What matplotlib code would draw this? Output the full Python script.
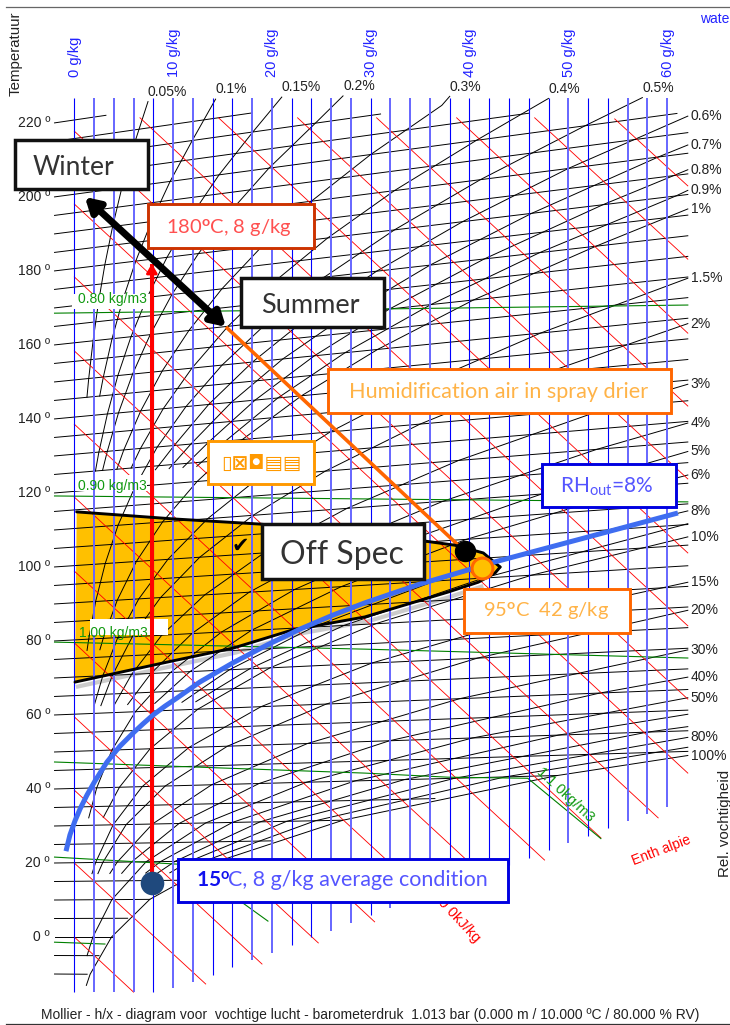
"""Mollier h/x diagram with spray drier operating points."""

import matplotlib

matplotlib.use("Agg")
import matplotlib.pyplot as plt
from matplotlib.patches import Polygon, Rectangle

plt.rcParams["font.family"] = ["Liberation Sans", "DejaVu Sans"]
plt.rcParams["mathtext.fontset"] = "custom"
plt.rcParams["mathtext.rm"] = "Lato"
plt.rcParams["mathtext.bf"] = "Lato:bold"
plt.rcParams["mathtext.default"] = "rm"

# Isotherms: temperature at the left edge, and moisture where each line stops
iso_temps = [-10, -5, 0, 5, 10, 15, 20, 25, 30, 35, 40, 45, 50, 55, 60, 65, 70, 75, 80, 85,
             90, 95, 100, 105, 110, 115, 120, 125, 130, 135, 140, 145, 150, 155, 160, 165,
             170, 175, 180, 185, 190, 195, 200, 205, 210, 215, 220]
iso_end_x = [1.3, 2.5, 3.77, 5.4, 7.64, 10.6, 14.7, 20.1, 27.2, 36.5, 48.9, 62.1, 62.1, 62.1,
             62.1, 62.1, 62.1, 62.1, 62.1, 62.1, 62.1, 62.1, 62.1, 62.1, 62.1, 62.1, 62.1,
             62.1, 62.1, 62.1, 62.1, 62.1, 62.1, 62.1, 62.1, 62.1, 62.1, 62.1, 62.1, 62.1,
             62.1, 62.1, 61, 46, 31, 18, 3.2]

# Relative humidity curves, label "" means the curve has no label
rh_labels = ["0.05%", "0.1%", "0.15%", "0.2%", "0.3%", "0.4%", "0.5%", "0.6%", "0.7%", "0.8%",
             "0.9%", "1%", "1.5%", "2%", "3%", "4%", "5%", "6%", "8%", "", "10%", "15%", "20%",
             "30%", "40%", "50%", "", "", "80%", "", "100%"]
rh_temps = [
    [145, 150, 160, 170, 180, 190, 200, 210, 220, 222],
    [145, 150, 160, 170, 180, 190, 200, 210, 220],
    [125, 130, 140, 150, 160, 170, 180, 190, 200, 210, 218],
    [125, 130, 140, 150, 160, 170, 180, 190, 200, 210, 216],
    [125, 130, 140, 150, 160, 170, 180, 190, 200, 210, 212],
    [125, 130, 140, 150, 160, 170, 180, 190, 200, 208],
    [77, 80, 90, 100, 110, 120, 130, 140, 150, 160, 170, 180, 190, 200, 205],
    [124, 130, 140, 150, 160, 170, 180, 190, 199],
    [124, 130, 140, 150, 160, 170, 180, 190, 192],
    [124, 130, 140, 150, 160, 170, 180, 186],
    [124, 130, 140, 150, 160, 170, 180, 181],
    [77, 80, 90, 100, 110, 120, 130, 140, 150, 160, 170, 176.5],
    [62, 70, 80, 90, 100, 110, 120, 130, 140, 150, 159.7],
    [62, 70, 80, 90, 100, 110, 120, 130, 140, 148.7],
    [62, 70, 80, 90, 100, 110, 120, 130, 134],
    [62, 70, 80, 90, 100, 110, 120, 124.6],
    [32, 40, 50, 60, 70, 80, 90, 100, 110, 117.7],
    [62, 70, 80, 90, 100, 110, 112],
    [62, 70, 80, 90, 100, 103.3],
    [62, 70, 80, 90, 100.2],
    [32, 40, 50, 60, 70, 80, 90, 97],
    [17, 20, 30, 40, 50, 60, 70, 80, 86],
    [17, 20, 30, 40, 50, 60, 70, 79.2],
    [17, 20, 30, 40, 50, 60, 69.6],
    [17, 20, 30, 40, 50, 60, 63],
    [-5, 0, 10, 20, 30, 40, 50, 58],
    [17, 20, 30, 40, 50, 54],
    [17, 20, 30, 40, 50, 51],
    [17, 20, 30, 40, 48.4],
    [17, 20, 30, 40, 46],
    [-13, -10, 0, 10, 20, 30, 40, 44],
]
rh_gkg = [
    [1.28, 1.46, 1.9, 2.44, 3.09, 3.88, 4.81, 5.91, 7.2, 7.46],
    [2.57, 2.94, 3.82, 4.9, 6.22, 7.81, 9.7, 11.94, 14.3],
    [2.14, 2.49, 3.35, 4.41, 5.74, 7.38, 9.38, 11.79, 14.65, 18.07, 21.0],
    [2.86, 3.34, 4.47, 5.9, 7.68, 9.88, 12.57, 15.8, 19.7, 24.4, 27.2],
    [4.31, 5.01, 6.73, 8.89, 11.6, 14.94, 19.05, 24.0, 30.0, 37.2, 38.0],
    [5.75, 6.7, 9.0, 11.91, 15.56, 20.08, 25.65, 32.4, 40.7, 48.0],
    [1.29, 1.46, 2.16, 3.13, 4.43, 6.16, 8.4, 11.3, 14.96, 19.6, 25.3, 32.4, 41.1, 51.7, 57.5],
    [8.21, 10.11, 13.6, 18.04, 23.6, 30.6, 39.3, 50.0, 62.1],
    [9.6, 11.8, 15.9, 21.1, 27.8, 36.0, 46.3, 59.1, 62.1],
    [11.0, 13.55, 18.3, 24.3, 31.9, 41.5, 53.5, 62.1],
    [12.4, 15.3, 20.6, 27.4, 36.1, 47.1, 60.9, 62.1],
    [2.59, 2.93, 4.35, 6.28, 8.93, 12.43, 17.0, 23.0, 30.7, 40.4, 52.8, 62.1],
    [2.0, 2.89, 4.4, 6.53, 9.47, 13.5, 18.85, 25.9, 35.2, 47.2, 62.1],
    [2.69, 3.86, 5.87, 8.73, 12.7, 18.1, 25.4, 35.0, 47.8, 62.1],
    [4.04, 5.8, 8.85, 13.2, 19.2, 27.6, 38.9, 54.1, 62.1],
    [5.4, 7.76, 11.9, 17.7, 25.9, 37.3, 52.9, 62.1],
    [1.46, 2.27, 3.81, 6.18, 9.73, 14.9, 22.3, 32.7, 47.3, 62.1],
    [8.15, 11.7, 17.9, 27.0, 39.7, 57.7, 62.1],
    [10.9, 15.7, 24.2, 36.5, 54.1, 62.1],
    [12.3, 17.75, 27.3, 41.4, 62.1],
    [2.93, 4.57, 7.67, 12.5, 19.8, 30.5, 46.3, 62.1],
    [1.79, 2.16, 3.93, 6.87, 11.6, 18.9, 30.1, 46.9, 62.1],
    [2.39, 2.89, 5.25, 9.2, 15.5, 25.5, 40.8, 62.1],
    [3.6, 4.34, 7.91, 13.9, 23.6, 39.0, 62.1],
    [4.8, 5.8, 10.6, 18.7, 31.9, 53.2, 62.1],
    [1.29, 1.88, 3.8, 7.27, 13.3, 23.5, 40.3, 62.1],
    [7.23, 8.73, 16.0, 28.4, 49.0, 62.1],
    [8.45, 10.2, 18.8, 33.4, 58.0, 62.1],
    [9.67, 11.7, 21.5, 38.5, 62.1],
    [10.9, 13.2, 24.4, 43.6, 62.1],
    [1.22, 1.6, 3.77, 7.64, 14.7, 27.2, 48.9, 62.1],
]

# Moisture lines, every 2 g/kg, with the ordinate where each stops at the bottom
water_x = [0, 2, 4, 6, 8, 10, 12, 14, 16, 18, 20, 22, 24, 26, 28, 30, 32, 34, 36, 38, 40, 42,
           44, 46, 48, 50, 52, 54, 56, 58, 60]
water_bottom = [-14.9, -14.9, -14.9, -14.9, -14.9, -13.8, -12.2, -10.3, -8.1, -6.2, -4.3, -2.2,
                0, 1.6, 3.8, 5.9, 7.8, 9.7, 11.6, 13.5, 15.4, 17.3, 19.5, 21.4, 23.5, 25.4,
                27.3, 29.5, 31.4, 33.2, 35.1]
water_top = 226.8
water_faint = [2, 4, 6, 10, 12, 18, 20, 26, 28, 32, 34, 36, 50, 56, 58, 60]
water_labels = [0, 10, 20, 30, 40, 50, 60]

# Enthalpy lines (start and end of each)
enth_x0 = [54.7, 46.6, 38.7, 30.6, 22.6, 14.6, 6.65, 0, 0, 0, 0, 0, 0, 0, 0, 0, 0, 0, 0]
enth_y0 = [221.1, 221.4, 221.4, 221.4, 221.4, 221.4, 221.4, 217.8, 198.1, 178.4, 158.4, 138.6,
           118.9, 98.9, 79.5, 59.5, 39.7, 20, 0]
enth_x1 = [62.1, 62.1, 62.1, 62.1, 62.1, 62.1, 62.1, 62.1, 62.1, 59.1, 53.3, 47.6, 41.9, 36.1,
           30.4, 24.7, 19, 13.3, 6]
enth_y1 = [203.0, 183.2, 163.2, 143.5, 123.8, 103.8, 84.1, 64.3, 44.3, 32.2, 26.8, 20.8, 15.4,
           9.7, 4.1, -1.6, -7.3, -12.7, -14.9]

# Density lines
dens_x = [[-2, 62.1], [-2, 29.4, 62.1], [-2, 29.4, 62.1], [-2, 29.4, 37.8, 45.9, 53.3],
          [-2, 11.7, 19.6], [-2, 3.1]]
dens_y = [[168.6, 170.8], [119.2, 118.4, 117.6], [79.7, 77.8, 75.4], [47.3, 44.3, 43.2, 42.9, 26.6],
          [21.6, 19.5, 4.3], [-1.4, -1.9]]

temp_ticks = [0, 20, 40, 60, 80, 100, 120, 140, 160, 180, 200, 220]

# Off spec region
spec_x = [0.24, 10.0, 18.8, 35.5, 38.5, 41.4, 43.1, 42.6, 40.9, 37.8, 29.4, 22.1, 16.1, 9.4, 0.07]
spec_y = [114.9, 113.0, 111.6, 107.0, 105.9, 103.8, 100, 98.4, 95.9, 93.2, 86.5, 83, 78.1, 74.3, 68.9]

# RH out = 8% process line
rh_out_x = [-0.84, -0.44, 0.07, 0.58, 1.29, 2.1, 3.31, 4.63, 5.94, 6.95, 7.97, 9.18, 10.4, 12.7,
            16.06, 19.5, 22.84, 26.18, 29.4, 34.99, 39.85, 42.6, 61.1]
rh_out_y = [23.2, 27.6, 31.4, 34.6, 38.4, 42.2, 47.3, 51.6, 55.1, 57.6, 60.0, 62.4, 64.6, 68.9,
            74.1, 78.9, 83.2, 87.0, 90.3, 95.4, 99.2, 101.4, 114.6]

# Process points: inlet, heated, season arrow, spray drier
heater_x = [7.85, 7.85]
heater_y = [14.6, 182]
season_x = [1.07, 15.35]
season_y = [200, 164.9]
spray_x = [15.35, 39.5]
spray_y = [164.9, 104.3]
off_spec_point = (39.5, 104.3)
outlet_point = (41.3, 99.8)
inlet_point = (7.85, 14.6)


def chart_y(temp, gkg):
    """Ordinate on the skewed diagram for a temperature and a moisture content."""
    return temp * (1.0037 + 0.00179 * gkg)


fig = plt.figure(figsize=(7.3, 10.25), dpi=100)
ax = fig.add_axes([0, 0, 1, 1])
ax.set_xlim(-7.52, 66.37)
ax.set_ylim(-23.78, 253.24)
ax.axis("off")

# Pixel layer for the boxes and frame lines that sit on top of the diagram
top = fig.add_axes([0, 0, 1, 1])
top.set_xlim(0, 730)
top.set_ylim(1025, 0)
top.axis("off")
top.patch.set_alpha(0)

# Off spec area goes under the grid
ax.add_patch(Polygon(list(zip(spec_x, spec_y)), closed=True, facecolor="#ffc000", edgecolor="none", zorder=1))
ax.plot([x + 0.3 for x in spec_x[8:]], [y - 1.2 for y in spec_y[8:]], color="#999999", lw=3, alpha=0.5, zorder=1)

for temp, end_x in zip(iso_temps, iso_end_x):
    ax.plot([-2, end_x], [chart_y(temp, -2), chart_y(temp, end_x)], color="black", lw=0.7, zorder=3)

for temps, gkg in zip(rh_temps, rh_gkg):
    ax.plot(gkg, [chart_y(t, g) for t, g in zip(temps, gkg)], color="black", lw=0.7, zorder=3)

for x0, y0, x1, y1 in zip(enth_x0, enth_y0, enth_x1, enth_y1):
    ax.plot([x0, x1], [y0, y1], color="red", lw=0.62, zorder=3)

for gx, gy in zip(dens_x, dens_y):
    ax.plot(gx, gy, color="#008000", lw=0.8, zorder=3)

# White plates behind the density labels
ax.add_patch(Rectangle((-0.2, 120.6), 7.6, 4.4, facecolor="white", edgecolor="none", zorder=4))

for x, bottom in zip(water_x, water_bottom):
    if x in water_faint:
        ax.plot([x, x], [bottom, water_top], color="#6666ff", lw=1.4, zorder=5, solid_capstyle="butt")
    else:
        ax.plot([x, x], [bottom, water_top], color="#0000ff", lw=0.8, zorder=5, solid_capstyle="butt")

ax.add_patch(Rectangle((-0.2, 169.8), 8.1, 4.0, facecolor="white", edgecolor="none", zorder=6))
ax.add_patch(Rectangle((1.6, 81.6), 7.9, 4.3, facecolor="white", edgecolor="none", zorder=6))

ax.text(0.4, 172.5, "0.80 kg/m3", color="#119911", fontsize=10, va="center", zorder=7)
ax.text(0.4, 121.8, "0.90 kg/m3", color="#119911", fontsize=10, va="center", zorder=7)
ax.text(0.5, 82.2, "1.00 kg/m3", color="#119911", fontsize=10, va="center", zorder=7)
ax.text(49.7, 38.4, "1.1 0kg/m3", color="#119911", fontsize=10.5, rotation=-43, ha="center", va="center", zorder=7)
ax.text(41.4, 0.4, "100 0kJ/kg", color="red", fontsize=10.5, rotation=-47, ha="right", va="top",
        rotation_mode="anchor", zorder=7)
ax.text(59.4, 23.5, "Enth alpie", color="red", fontsize=10, rotation=21, ha="center", va="center", zorder=7)

for temp in temp_ticks:
    ax.text(-2.46, temp, f"{temp} º", fontsize=10, color="#222222", ha="right", va="center")

for value in water_labels:
    ax.text(value + 0.05, 232.4, f"{value} g/kg", color="#2222ff", fontsize=10.5, rotation=90, ha="center", va="bottom")

for i, (label, temps, gkg) in enumerate(zip(rh_labels, rh_temps, rh_gkg)):
    if not label:
        continue
    end = (gkg[-1], chart_y(temps[-1], gkg[-1]))
    if i < 7:
        ax.annotate(label, end, xytext=(0, 2), textcoords="offset points", fontsize=10,
                    color="#222222", ha="left", va="bottom")
    else:
        ax.annotate(label, end, xytext=(2, 0), textcoords="offset points", fontsize=10,
                    color="#222222", ha="left", va="center")

# Process lines
ax.plot(heater_x, heater_y, color="red", lw=2.9, zorder=8, solid_capstyle="butt")
ax.annotate("", (heater_x[1], heater_y[1]), (heater_x[1], heater_y[1] - 6), zorder=8,
            arrowprops=dict(arrowstyle="-|>,head_width=0.32,head_length=0.55", color="red", lw=2, shrinkA=0, shrinkB=0))
ax.plot(spray_x, spray_y, color="#ff6600", lw=2.6, zorder=8, solid_capstyle="butt")
ax.annotate("", (season_x[0], season_y[0]), (season_x[1], season_y[1]), zorder=9,
            arrowprops=dict(arrowstyle="<|-|>,head_width=0.5,head_length=0.85", color="black", lw=5, shrinkA=0, shrinkB=0))
ax.plot(spec_x[:7], spec_y[:7], color="black", lw=2.1, zorder=8, solid_capstyle="round", solid_joinstyle="round")
ax.plot(spec_x[6:], spec_y[6:], color="black", lw=2.1, zorder=8, solid_capstyle="round", solid_joinstyle="round")
ax.plot(rh_out_x, rh_out_y, color="#3f6df0", lw=3.6, zorder=9, solid_capstyle="butt", solid_joinstyle="round")
ax.plot(*off_spec_point, "o", color="black", ms=14.4, zorder=10)
ax.plot(*outlet_point, "o", mfc="#ffc000", mec="#ff6600", mew=2.2, ms=15, zorder=11)
ax.plot(*inlet_point, "o", color="#1f497d", ms=17, zorder=10, mew=0)
ax.text(16.8, 105.7, "✔", color="black", fontsize=15, family="DejaVu Sans", ha="center", va="center", zorder=12)
ax.set_zorder(1)
top.set_zorder(2)


def add_box(x0, y0, x1, y1, edge, lw=2.1):
    """Draw a white note box given its pixel corners."""
    top.add_patch(Rectangle((x0, y0), x1 - x0, y1 - y0, facecolor="white", edgecolor=edge, lw=lw, zorder=2))


def add_note(x, y, text, color, size, ha="center"):
    top.text(x, y + 2.5, text, color=color, fontsize=size, family="Lato", ha=ha, va="center", zorder=3)


add_box(15, 140, 148, 189, "#111111", lw=2.5)
add_note(73, 165, "Winter", "#333333", 19)
add_box(241, 278, 384, 327, "#111111", lw=2.5)
add_note(310, 303, "Summer", "#333333", 19.5)
add_box(148, 204, 314, 248, "#cc3300")
add_note(229, 226, r"180$^{\mathbf{o}}$C, 8 g/kg", "#ff5050", 14.5)
add_box(328, 369, 671, 413, "#ff6600")
add_note(499, 390, "Humidification air in spray drier", "#ffb347", 15.6)
add_box(208, 441, 314, 484, "#ff9900")
top.text(261, 463, "▯⊠◘▤▤", color="#ff9900", fontsize=14, fontweight="bold", family="DejaVu Sans",
         ha="center", va="center", zorder=3)
add_box(262, 524, 424, 579, "#111111", lw=2.5)
add_note(342, 552, "Off Spec", "#333333", 23)
add_box(542, 464, 676, 507, "#0000e0")
add_note(607, 484, r"RH$_{\mathrm{out}}$=8%", "#5555ff", 15)
add_box(464, 589, 630, 633, "#ff6600")
add_note(546, 609, r"95$^{\mathbf{o}}$C  42 g/kg", "#ffb347", 14.5)
add_box(178, 859, 508, 902, "#0000e0")
top.text(196, 881, r"$\mathbf{15^{o}}$", color="#1111ee", fontsize=15, ha="left", va="center", zorder=3)
add_note(228, 878, "C, 8 g/kg average condition", "#5555ff", 15.5, ha="left")

# Frame and axis captions
top.plot([6, 730], [7, 7], color="#666666", lw=0.9)
top.plot([6, 730], [1024, 1024], color="#333333", lw=0.9)
top.text(16, 96, "Temperatuur", fontsize=10.8, color="#222222", rotation=90, ha="center", va="bottom")
top.text(725, 877, "Rel. vochtigheid", fontsize=10.8, color="#222222", rotation=90, ha="center", va="bottom")
top.text(700, 19, "wate", fontsize=10, color="#2222ff", ha="left", va="center")
top.text(370, 1015, "Mollier - h/x - diagram voor  vochtige lucht - barometerdruk  1.013 bar (0.000 m / 10.000 ºC / 80.000 % RV)",
         fontsize=10, color="#222222", ha="center", va="center")

fig.savefig("out.png", dpi=100)
